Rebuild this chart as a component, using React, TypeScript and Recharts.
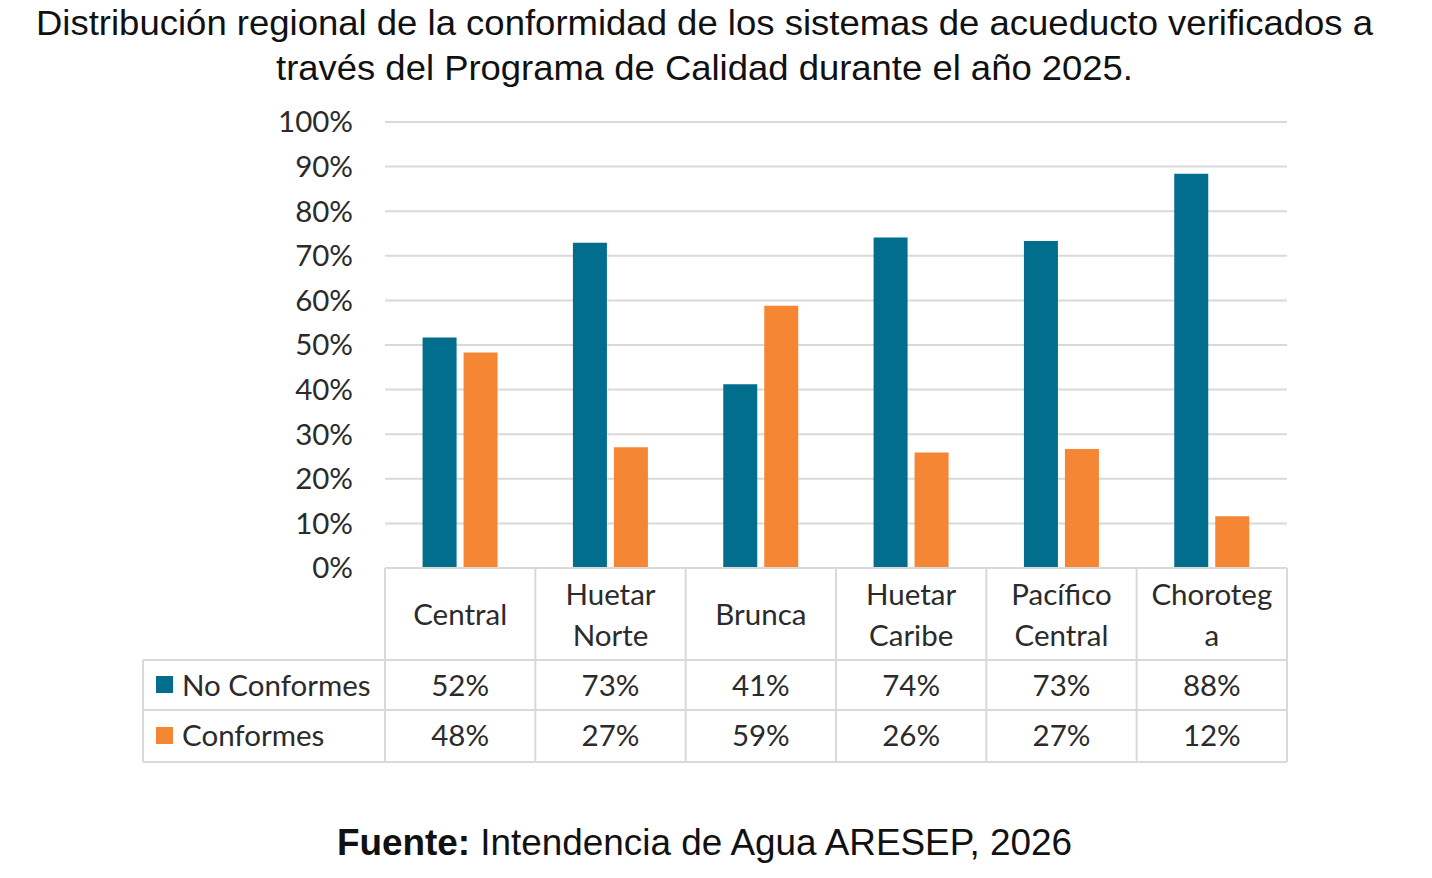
import React from 'react';
import { BarChart, Bar, XAxis, YAxis, CartesianGrid } from 'recharts';

const regiones = ['Central', 'Huetar Norte', 'Brunca', 'Huetar Caribe', 'Pacífico Central', 'Chorotega'];
// etiquetas tal como aparecen partidas en la tabla
const etiquetas = [['Central'], ['Huetar', 'Norte'], ['Brunca'], ['Huetar', 'Caribe'], ['Pacífico', 'Central'], ['Choroteg', 'a']];
const noConformes = [51.7, 72.9, 41.2, 74.1, 73.3, 88.4];
const conformes = [48.3, 27.1, 58.8, 25.9, 26.7, 11.6];
const yTicks = [0, 10, 20, 30, 40, 50, 60, 70, 80, 90, 100];

const data = regiones.map((r, i) => ({ region: r, no: noConformes[i], si: conformes[i] }));

const W = 1432;
const H = 878;
const PLOT_L = 385;
const PLOT_R = 1287;
const PLOT_T = 122;
const PLOT_B = 568;
const BAND = (PLOT_R - PLOT_L) / regiones.length;

const AZUL = '#006e8c';
const NARANJA = '#f58634';
const LINEA = '#d9d9d9';
const FUENTE = 'Lato, "Open Sans", sans-serif';
const TEXTO = '#2b2b2b';
const FS = 29.5;

const ROW1 = 660;
const ROW2 = 710;
const ROW3 = 762;

// tick del eje X: dibuja la celda de la tabla de datos
const TablaTick = (props: any) => {
  const { x, payload, index } = props;
  const i = index ?? regiones.indexOf(payload.value);
  const lines = etiquetas[i] || [payload.value];
  const left = x - BAND / 2;
  const right = x + BAND / 2;
  return (
    <g>
      <line x1={right} y1={PLOT_B} x2={right} y2={ROW3} stroke={LINEA} strokeWidth={2} />
      {i === 0 && <line x1={left} y1={PLOT_B} x2={left} y2={ROW3} stroke={LINEA} strokeWidth={2} />}
      {lines.map((l: string, k: number) => (
        <text
          key={k}
          x={x}
          y={lines.length === 1 ? 625 : 605 + k * 41}
          textAnchor="middle"
          fontFamily={FUENTE}
          fontSize={FS}
          fill={TEXTO}
        >
          {l}
        </text>
      ))}
      <text x={x} y={696} textAnchor="middle" fontFamily={FUENTE} fontSize={FS} fill={TEXTO}>
        {Math.round(noConformes[i])}%
      </text>
      <text x={x} y={746} textAnchor="middle" fontFamily={FUENTE} fontSize={FS} fill={TEXTO}>
        {Math.round(conformes[i])}%
      </text>
    </g>
  );
};

export default function App() {
  return (
    <div style={{ position: 'absolute', left: 0, top: 0, width: W, height: H, background: '#fff' }}>
      <BarChart
        width={W}
        height={H}
        data={data}
        margin={{ top: PLOT_T, right: W - PLOT_R, bottom: 110, left: 0 }}
        barCategoryGap="25%"
        barGap={7}
      >
        <CartesianGrid vertical={false} stroke={LINEA} strokeWidth={2} />
        <YAxis
          width={PLOT_L}
          domain={[0, 100]}
          ticks={yTicks}
          interval={0}
          axisLine={false}
          tickLine={false}
          tickSize={0}
          tickMargin={32}
          tickFormatter={(v: number) => `${v}%`}
          tick={{ fontFamily: FUENTE, fontSize: FS, fill: TEXTO }}
        />
        <XAxis
          dataKey="region"
          height={H - PLOT_B - 110}
          interval={0}
          axisLine={{ stroke: LINEA, strokeWidth: 2 }}
          tickLine={false}
          tick={<TablaTick />}
        />
        <Bar dataKey="no" name="No Conformes" fill={AZUL} isAnimationActive={false} />
        <Bar dataKey="si" name="Conformes" fill={NARANJA} isAnimationActive={false} />
      </BarChart>
      <svg width={W} height={H} style={{ position: 'absolute', left: 0, top: 0, pointerEvents: 'none' }}>
        <text
          x={36}
          y={35}
          textLength={1337}
          lengthAdjust="spacingAndGlyphs"
          fontFamily='"Liberation Sans", Arial, sans-serif'
          fontSize={35}
          fill="#111"
        >
          Distribución regional de la conformidad de los sistemas de acueducto verificados a
        </text>
        <text
          x={276}
          y={80}
          textLength={857}
          lengthAdjust="spacingAndGlyphs"
          fontFamily='"Liberation Sans", Arial, sans-serif'
          fontSize={35}
          fill="#111"
        >
          través del Programa de Calidad durante el año 2025.
        </text>
        {/* columna de leyenda de la tabla */}
        <line x1={143} y1={ROW1} x2={PLOT_R} y2={ROW1} stroke={LINEA} strokeWidth={2} />
        <line x1={143} y1={ROW2} x2={PLOT_R} y2={ROW2} stroke={LINEA} strokeWidth={2} />
        <line x1={143} y1={ROW3} x2={PLOT_R} y2={ROW3} stroke={LINEA} strokeWidth={2} />
        <line x1={143} y1={ROW1} x2={143} y2={ROW3} stroke={LINEA} strokeWidth={2} />
        <rect x={156} y={676} width={17} height={17} fill={AZUL} />
        <text x={182} y={696} fontFamily={FUENTE} fontSize={FS} fill={TEXTO}>No Conformes</text>
        <rect x={156} y={727} width={17} height={17} fill={NARANJA} />
        <text x={182} y={746} fontFamily={FUENTE} fontSize={FS} fill={TEXTO}>Conformes</text>
        <text
          x={337}
          y={855}
          textLength={735}
          lengthAdjust="spacingAndGlyphs"
          fontFamily='"Liberation Sans", Arial, sans-serif'
          fontSize={36}
          fill="#111"
        >
          <tspan fontWeight="bold">Fuente:</tspan> Intendencia de Agua ARESEP, 2026
        </text>
      </svg>
    </div>
  );
}
